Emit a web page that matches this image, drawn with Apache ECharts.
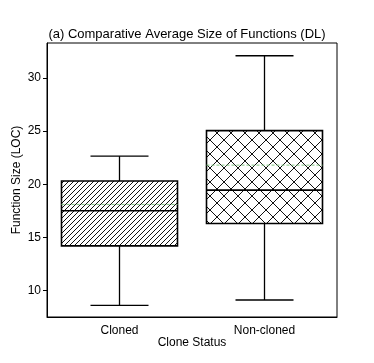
<!DOCTYPE html>
<html>
<head>
<meta charset="utf-8">
<script src="https://cdn.jsdelivr.net/npm/echarts@6/dist/echarts.min.js"></script>
<style>
  html, body { margin: 0; padding: 0; background: #fff; }
  #chart { width: 374px; height: 363px; }
</style>
</head>
<body>
<div id="chart"></div>
<script>
const categories = ['Cloned', 'Non-cloned'];
const whiskerLow = [8.6, 9.1];
const q1 = [14.2, 16.3];
const median = [17.5, 19.45];
const q3 = [20.3, 25.05];
const whiskerHigh = [22.65, 32.1];
const means = [18.1, 21.8];
const yTicks = [10, 15, 20, 25, 30];

// hatch tiles
function makeTile(size, draw) {
  const c = document.createElement('canvas');
  c.width = size; c.height = size;
  const ctx = c.getContext('2d');
  ctx.fillStyle = '#fff';
  ctx.fillRect(0, 0, size, size);
  ctx.strokeStyle = '#111';
  ctx.lineWidth = 1;
  draw(ctx, size);
  return c;
}
function diag(ctx, s, up) {
  for (let k = -1; k <= 1; k++) {
    ctx.beginPath();
    if (up) { ctx.moveTo(k * s, s); ctx.lineTo(k * s + s, 0); }
    else { ctx.moveTo(k * s, 0); ctx.lineTo(k * s + s, s); }
    ctx.stroke();
  }
}
const hatch = makeTile(5, (ctx, s) => diag(ctx, s, true));
const cross = makeTile(14, (ctx, s) => { diag(ctx, s, true); diag(ctx, s, false); });
const fills = [hatch, cross];

const boxData = categories.map((c, i) =>
  [i, whiskerLow[i], q1[i], median[i], q3[i], whiskerHigh[i], means[i]]);

const chart = echarts.init(document.getElementById('chart'));

chart.setOption({
  animation: false,
  textStyle: { fontFamily: 'Liberation Sans, Arial, sans-serif' },
  title: {
    text: '(a) Comparative Average Size of Functions (DL)',
    left: 'center',
    top: 23,
    textStyle: { fontSize: 13, fontWeight: 'normal', color: '#000' }
  },
  grid: {
    left: 47, right: 37, top: 43, bottom: 46,
    show: true, borderColor: '#000', borderWidth: 1
  },
  xAxis: {
    type: 'category',
    data: categories,
    name: 'Clone Status',
    nameLocation: 'middle',
    nameGap: 20,
    nameMoveOverlap: false,
    nameTextStyle: { fontSize: 12, color: '#000' },
    axisLine: { lineStyle: { color: '#000' } },
    axisTick: { alignWithLabel: true, length: 4, lineStyle: { color: '#000' } },
    axisLabel: { fontSize: 12, color: '#000', margin: 8 },
    splitLine: { show: false }
  },
  yAxis: {
    type: 'value',
    min: 7.5,
    max: 33.3,
    name: 'Function Size (LOC)',
    nameLocation: 'middle',
    nameGap: 24,
    nameMoveOverlap: false,
    nameTextStyle: { fontSize: 12, color: '#000' },
    axisLine: { show: true, lineStyle: { color: '#000' } },
    axisTick: { show: true, length: 4, customValues: yTicks, lineStyle: { color: '#000' } },
    axisLabel: { fontSize: 12, color: '#000', margin: 6, customValues: yTicks },
    splitLine: { show: false }
  },
  series: [{
    type: 'custom',
    data: boxData,
    encode: { x: 0, y: [1, 2, 3, 4, 5, 6] },
    renderItem(params, api) {
      const i = api.value(0);
      const x = api.coord([i, 0])[0];
      const band = api.size([1, 0])[0];
      const bw = band * 0.4, cw = band * 0.2;
      const y = k => api.coord([i, api.value(k)])[1];
      const yLow = y(1), yQ1 = y(2), yMed = y(3), yQ3 = y(4), yHigh = y(5), yMean = y(6);
      const line = (x1, y1, x2, y2, style) => ({
        type: 'line', shape: { x1, y1, x2, y2 },
        style: Object.assign({ stroke: '#000', lineWidth: 1.3 }, style)
      });
      return {
        type: 'group',
        children: [
          line(x, yQ1, x, yLow),
          line(x, yQ3, x, yHigh),
          line(x - cw, yLow, x + cw, yLow),
          line(x - cw, yHigh, x + cw, yHigh),
          {
            type: 'rect',
            shape: { x: x - bw, y: yQ3, width: bw * 2, height: yQ1 - yQ3 },
            style: { fill: { image: fills[i], repeat: 'repeat' }, stroke: '#000', lineWidth: 1.6 }
          },
          line(x - bw, yMean, x + bw, yMean, { stroke: '#7fc47f', lineWidth: 1, lineDash: [3, 2] }),
          line(x - bw, yMed, x + bw, yMed, { lineWidth: 1.6 })
        ]
      };
    }
  }]
});
</script>
</body>
</html>
